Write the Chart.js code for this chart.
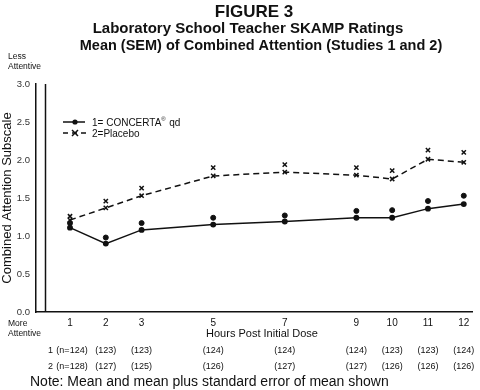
<!DOCTYPE html>
<html>
<head>
<meta charset="utf-8">
<script src="https://cdn.jsdelivr.net/npm/chart.js@4.4.1/dist/chart.umd.min.js"></script>
<style>
  html, body { margin: 0; padding: 0; background: #fff; }
  #wrap { width: 480px; height: 390px; }
</style>
</head>
<body>
<div id="wrap"><canvas id="skampChart" width="480" height="390"></canvas></div>
<script>
// Hours post dose and values
const hours = [1, 2, 3, 5, 7, 9, 10, 11, 12];
const concertaMean = [1.11, 0.90, 1.08, 1.15, 1.19, 1.24, 1.24, 1.36, 1.42];
const concertaUpper = [1.17, 0.98, 1.17, 1.24, 1.27, 1.33, 1.34, 1.46, 1.53];
const placeboMean = [1.21, 1.37, 1.53, 1.79, 1.84, 1.80, 1.75, 2.01, 1.97];
const placeboUpper = [1.26, 1.46, 1.63, 1.90, 1.94, 1.90, 1.86, 2.13, 2.10];
const nConcerta = ['(n=124)', '(123)', '(123)', '(124)', '(124)', '(124)', '(123)', '(123)', '(124)'];
const nPlacebo = ['(n=128)', '(127)', '(125)', '(126)', '(127)', '(127)', '(126)', '(126)', '(126)'];
const yTicks = [0, 0.5, 1, 1.5, 2, 2.5, 3];

const FONT = '"Liberation Sans", Arial, Helvetica, sans-serif';
const INK = '#111';

function pts(arr) {
    return hours.map((h, i) => ({ x: h, y: arr[i] }));
}

// Extra text and marks drawn around the plot
const figureExtras = {
    id: 'figureExtras',
    afterDraw(chart) {
        const ctx = chart.ctx;
        const area = chart.chartArea;
        const xs = chart.scales.x;
        ctx.save();
        ctx.fillStyle = INK;
        ctx.strokeStyle = INK;

        // titles
        ctx.textAlign = 'center';
        ctx.textBaseline = 'middle';
        ctx.font = 'bold 17px ' + FONT;
        ctx.fillText('FIGURE 3', 254, 12);
        ctx.font = 'bold 15px ' + FONT;
        ctx.fillText('Laboratory School Teacher SKAMP Ratings', 248, 29);
        ctx.font = 'bold 14.5px ' + FONT;
        ctx.fillText('Mean (SEM) of Combined Attention (Studies 1 and 2)', 261, 46);

        // second vertical rule next to the y axis
        ctx.lineWidth = 1.5;
        ctx.beginPath();
        ctx.moveTo(area.left + 9.5, area.top);
        ctx.lineTo(area.left + 9.5, area.bottom);
        ctx.stroke();

        // less / more attentive
        ctx.textAlign = 'left';
        ctx.font = '8.5px ' + FONT;
        ctx.fillText('Less', 8, 57);
        ctx.fillText('Attentive', 8, 67);
        ctx.fillText('More', 8, 324);
        ctx.fillText('Attentive', 8, 334);

        // legend
        ctx.lineWidth = 1.5;
        ctx.beginPath();
        ctx.moveTo(63, 122);
        ctx.lineTo(85, 122);
        ctx.stroke();
        ctx.beginPath();
        ctx.arc(75, 122, 2.6, 0, Math.PI * 2);
        ctx.fill();
        ctx.setLineDash([5, 4]);
        ctx.beginPath();
        ctx.moveTo(63, 133);
        ctx.lineTo(86, 133);
        ctx.stroke();
        ctx.setLineDash([]);
        ctx.beginPath();
        ctx.moveTo(72, 130); ctx.lineTo(78, 136);
        ctx.moveTo(78, 130); ctx.lineTo(72, 136);
        ctx.stroke();
        ctx.font = '10px ' + FONT;
        ctx.fillText('1= CONCERTA', 92, 123);
        const w = ctx.measureText('1= CONCERTA').width;
        ctx.font = '6px ' + FONT;
        ctx.fillText('\u00AE', 92 + w, 119);
        ctx.font = '10px ' + FONT;
        ctx.fillText(' qd', 92 + w + 5, 123);
        ctx.fillText('2=Placebo', 92, 134);

        // x axis title
        ctx.textAlign = 'center';
        ctx.font = '11px ' + FONT;
        ctx.fillText('Hours Post Initial Dose', 262, 334);

        // sample sizes
        ctx.font = '9px ' + FONT;
        hours.forEach((h, i) => {
            const px = xs.getPixelForValue(h);
            const dx = i === 0 ? 2 : 0;
            ctx.fillText(nConcerta[i], px + dx, 351);
            ctx.fillText(nPlacebo[i], px + dx, 367);
        });
        const p1 = xs.getPixelForValue(hours[0]) + 2;
        ctx.textAlign = 'right';
        ctx.fillText('1', p1 - 19, 351);
        ctx.fillText('2', p1 - 19, 367);

        // note
        ctx.textAlign = 'left';
        ctx.font = '14px ' + FONT;
        ctx.fillText('Note: Mean and mean plus standard error of mean shown', 30, 382);
        ctx.restore();
    }
};

new Chart(document.getElementById('skampChart'), {
    type: 'line',
    data: {
        datasets: [
            {
                label: 'CONCERTA mean',
                data: pts(concertaMean),
                borderColor: INK,
                backgroundColor: INK,
                borderWidth: 1.5,
                pointStyle: 'circle',
                pointRadius: 2.2,
                tension: 0
            },
            {
                label: 'CONCERTA mean + SEM',
                data: pts(concertaUpper),
                showLine: false,
                borderColor: INK,
                backgroundColor: INK,
                pointStyle: 'circle',
                pointRadius: 2.5
            },
            {
                label: 'Placebo mean',
                data: pts(placeboMean),
                borderColor: INK,
                backgroundColor: INK,
                borderWidth: 1.5,
                borderDash: [6, 4],
                pointStyle: 'crossRot',
                pointRadius: 3,
                pointBorderWidth: 1.5,
                tension: 0
            },
            {
                label: 'Placebo mean + SEM',
                data: pts(placeboUpper),
                showLine: false,
                borderColor: INK,
                backgroundColor: INK,
                pointStyle: 'crossRot',
                pointRadius: 3,
                pointBorderWidth: 1.5
            }
        ]
    },
    options: {
        responsive: false,
        animation: false,
        layout: { padding: { top: 84, right: 8, left: 0, bottom: 0 } },
        plugins: {
            legend: { display: false },
            tooltip: { enabled: false },
            title: { display: false }
        },
        scales: {
            x: {
                type: 'linear',
                min: 0.05,
                max: 12.23,
                afterBuildTicks(scale) {
                    scale.ticks = hours.map(h => ({ value: h }));
                },
                afterFit(scale) { scale.height = 78; },
                grid: { display: false, drawTicks: false },
                border: { display: true, color: INK, width: 1.5 },
                ticks: {
                    padding: 5,
                    color: INK,
                    font: { family: FONT, size: 10 },
                    maxRotation: 0,
                    autoSkip: false
                }
            },
            y: {
                min: 0,
                max: 3,
                afterBuildTicks(scale) {
                    scale.ticks = yTicks.map(v => ({ value: v }));
                },
                afterFit(scale) { scale.width = 36; },
                grid: { display: false, drawTicks: false },
                border: { display: true, color: INK, width: 1.5 },
                title: {
                    display: true,
                    text: 'Combined Attention Subscale',
                    color: INK,
                    font: { family: FONT, size: 13 },
                    padding: { top: 0, bottom: 0 }
                },
                ticks: {
                    padding: 6,
                    color: '#333',
                    font: { family: FONT, size: 9.5 },
                    callback: v => Number(v).toFixed(1)
                }
            }
        }
    },
    plugins: [figureExtras]
});
</script>
</body>
</html>
